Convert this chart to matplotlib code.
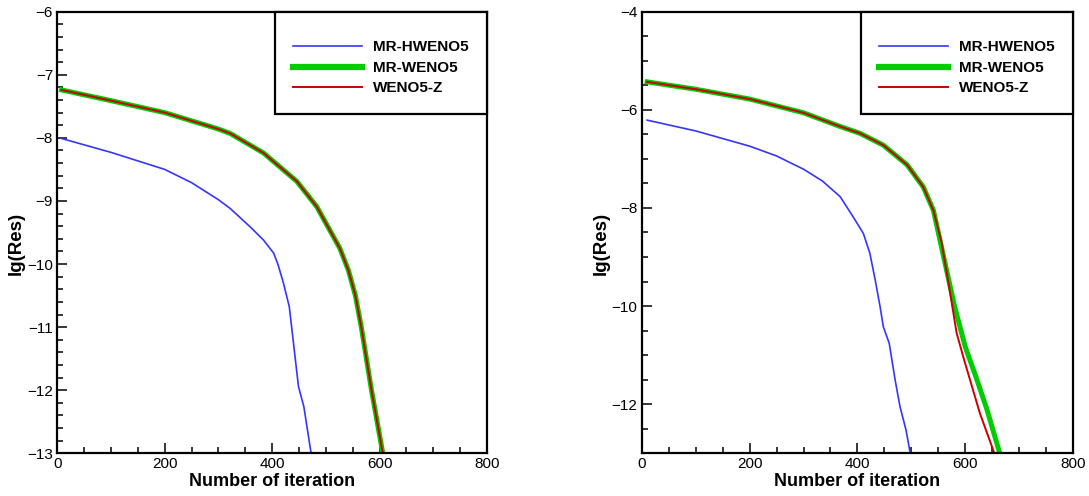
import matplotlib
matplotlib.use("Agg")
import matplotlib.pyplot as plt
from matplotlib.ticker import MultipleLocator

plt.rcParams['font.family'] = ['Liberation Sans', 'DejaVu Sans']

# ---- data: left panel ----
a_hweno_x = [8, 100, 200, 250, 300, 322, 359, 384, 403, 411, 421, 432, 439, 449, 459, 472, 473]
a_hweno_y = [-8.01, -8.23, -8.50, -8.71, -8.98, -9.12, -9.41, -9.62, -9.83, -10.01, -10.30, -10.68, -11.20, -11.94, -12.26, -12.97, -13.0]
a_weno_x = [8, 100, 200, 300, 322, 384, 446, 483, 526, 542, 555, 566, 585, 606]
a_weno_y = [-7.24, -7.41, -7.60, -7.86, -7.93, -8.24, -8.69, -9.09, -9.75, -10.10, -10.50, -11.00, -12.00, -13.0]
a_z_x = a_weno_x
a_z_y = a_weno_y

# ---- data: right panel ----
b_hweno_x = [10, 100, 200, 250, 300, 335, 368, 392, 411, 423, 433, 442, 448, 459, 470, 479, 490, 498]
b_hweno_y = [-6.21, -6.43, -6.74, -6.94, -7.21, -7.45, -7.77, -8.18, -8.52, -8.92, -9.47, -10.01, -10.42, -10.76, -11.51, -12.05, -12.52, -13.0]
b_weno_x = [10, 100, 200, 300, 368, 405, 448, 492, 522, 541, 560, 580, 600, 620, 640, 664]
b_weno_y = [-5.43, -5.58, -5.78, -6.06, -6.34, -6.48, -6.72, -7.12, -7.57, -8.05, -9.00, -10.00, -10.83, -11.45, -12.10, -13.0]
b_z_x = [10, 100, 200, 300, 368, 405, 448, 492, 522, 541, 556, 570, 584, 598, 627, 654]
b_z_y = [-5.43, -5.58, -5.78, -6.06, -6.34, -6.48, -6.72, -7.12, -7.57, -8.05, -8.70, -9.60, -10.55, -11.10, -12.18, -13.0]

labels = ['MR-HWENO5', 'MR-WENO5', 'WENO5-Z']
colors = ['#3535ff', '#00cc00', '#cc0000']
widths = [1.2, 3.6, 1.4]

fig = plt.figure(figsize=(10.89, 4.96), dpi=100)
ax1 = fig.add_axes([0.0526, 0.0861, 0.3946, 0.8903])
ax2 = fig.add_axes([0.5893, 0.0861, 0.3961, 0.8903])

panels = [
    (ax1, [(a_hweno_x, a_hweno_y), (a_weno_x, a_weno_y), (a_z_x, a_z_y)], (-13, -6), 1, 0.2),
    (ax2, [(b_hweno_x, b_hweno_y), (b_weno_x, b_weno_y), (b_z_x, b_z_y)], (-13, -4), 2, 0.5),
]

for ax, series, ylim, ymaj, ymin in panels:
    for (x, y), lab, c, lw in zip(series, labels, colors, widths):
        ax.plot(x, y, color=c, lw=lw, label=lab, solid_joinstyle='round')
    ax.set_xlim(0, 800)
    ax.set_ylim(*ylim)
    ax.xaxis.set_major_locator(MultipleLocator(200))
    ax.xaxis.set_minor_locator(MultipleLocator(50))
    ax.yaxis.set_major_locator(MultipleLocator(ymaj))
    ax.yaxis.set_minor_locator(MultipleLocator(ymin))
    ax.tick_params(which='both', direction='in', top=False, right=False, width=1.1, labelsize=11, pad=3)
    ax.tick_params(which='major', length=7)
    ax.tick_params(which='minor', length=4.5)
    for s in ax.spines.values():
        s.set_linewidth(1.6)
    ax.set_xlabel('Number of iteration', fontsize=13, fontweight='bold', labelpad=1)
    ax.set_ylabel('lg(Res)', fontsize=13.5, fontweight='bold')
    ax.yaxis.set_label_coords(-0.075, 0.475)
    leg = ax.legend(loc='upper right', borderaxespad=0, fancybox=False, frameon=True,
                    prop={'weight': 'bold', 'size': 11}, handlelength=4.5, handletextpad=0.75,
                    borderpad=1.2, labelspacing=0.42, framealpha=1,
                    title=' ', title_fontsize=3)
    fr = leg.get_frame()
    fr.set_edgecolor('black')
    fr.set_linewidth(1.6)
    leg.get_lines()[1].set_linewidth(4.5)

fig.savefig('out.png', dpi=100)
